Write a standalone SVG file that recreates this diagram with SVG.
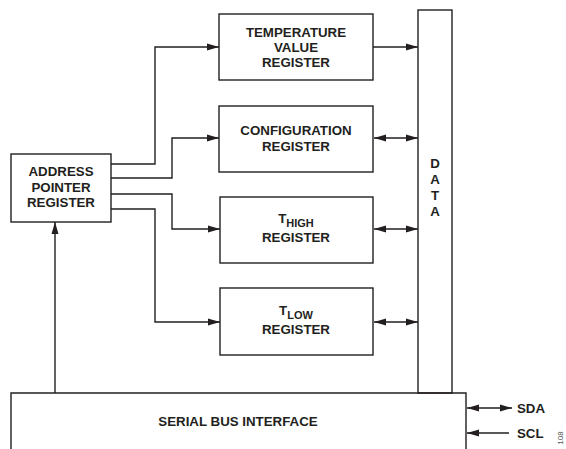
<svg xmlns="http://www.w3.org/2000/svg" width="566" height="449" viewBox="0 0 566 449">
<style>
.b{fill:#fff;stroke:#231f20;stroke-width:1.4}
.t{font-family:"Liberation Sans",Arial,sans-serif;font-weight:bold;font-size:13.3px;fill:#231f20;text-anchor:middle}
.s{font-size:11px}
.c{fill:none;stroke:#231f20;stroke-width:1.4}
</style>
<defs>
<marker id="ah" viewBox="0 0 12 8" refX="12" refY="4" markerWidth="12" markerHeight="8" markerUnits="userSpaceOnUse" orient="auto-start-reverse">
<path d="M0,0.5 L12,4 L0,7.5 Z" fill="#231f20"/>
</marker>
</defs>
<rect width="566" height="449" fill="#fff"/>
<g id="connectors">
<path class="c" d="M111,164 H155 V47 H219" marker-end="url(#ah)"/>
<path class="c" d="M111,178 H172 V138 H219" marker-end="url(#ah)"/>
<path class="c" d="M111,194 H172 V229 H220" marker-end="url(#ah)"/>
<path class="c" d="M111,209 H155 V322 H220" marker-end="url(#ah)"/>
<path class="c" d="M373,47 H418" marker-end="url(#ah)"/>
<path class="c" d="M374,138 H418" marker-start="url(#ah)" marker-end="url(#ah)"/>
<path class="c" d="M374,229 H418" marker-start="url(#ah)" marker-end="url(#ah)"/>
<path class="c" d="M374,322 H418" marker-start="url(#ah)" marker-end="url(#ah)"/>
<path class="c" d="M55,393 V222" marker-end="url(#ah)"/>
<path class="c" d="M467,408 H512" marker-start="url(#ah)" marker-end="url(#ah)"/>
<path class="c" d="M509,433 H467" marker-end="url(#ah)"/>
</g>
<g id="temperature">
<rect class="b" x="219" y="14" width="154" height="66"/>
<text class="t" x="296" y="37">TEMPERATURE</text>
<text class="t" x="296" y="52">VALUE</text>
<text class="t" x="296" y="67">REGISTER</text>
</g>
<g id="configuration">
<rect class="b" x="219" y="106" width="154" height="66"/>
<text class="t" x="296" y="135">CONFIGURATION</text>
<text class="t" x="296" y="151">REGISTER</text>
</g>
<g id="thigh">
<rect class="b" x="220" y="197" width="153" height="66"/>
<text class="t" x="296" y="223">T<tspan class="s" dy="4">HIGH</tspan></text>
<text class="t" x="296" y="242">REGISTER</text>
</g>
<g id="tlow">
<rect class="b" x="220" y="288" width="153" height="67"/>
<text class="t" x="296" y="315">T<tspan class="s" dy="4">LOW</tspan></text>
<text class="t" x="296" y="334">REGISTER</text>
</g>
<g id="address">
<rect class="b" x="11" y="154" width="100" height="68"/>
<text class="t" x="61" y="176">ADDRESS</text>
<text class="t" x="61" y="192">POINTER</text>
<text class="t" x="61" y="207">REGISTER</text>
</g>
<g id="data">
<rect class="b" x="418" y="10" width="34" height="383"/>
<text class="t" x="435" y="168">D</text>
<text class="t" x="435" y="184">A</text>
<text class="t" x="435" y="200">T</text>
<text class="t" x="435" y="216">A</text>
</g>
<g id="serial">
<path class="c" d="M11,452 V393 H466 V452"/>
<text class="t" x="238" y="426">SERIAL BUS INTERFACE</text>
</g>
<g id="pins">
<text class="t" x="517" y="413" style="text-anchor:start">SDA</text>
<text class="t" x="517" y="438" style="text-anchor:start">SCL</text>
</g>
<text x="0" y="0" transform="translate(563,438) rotate(-90)" style="font-family:'Liberation Sans',Arial,sans-serif;font-size:8px;fill:#555;text-anchor:middle">108</text>
</svg>
